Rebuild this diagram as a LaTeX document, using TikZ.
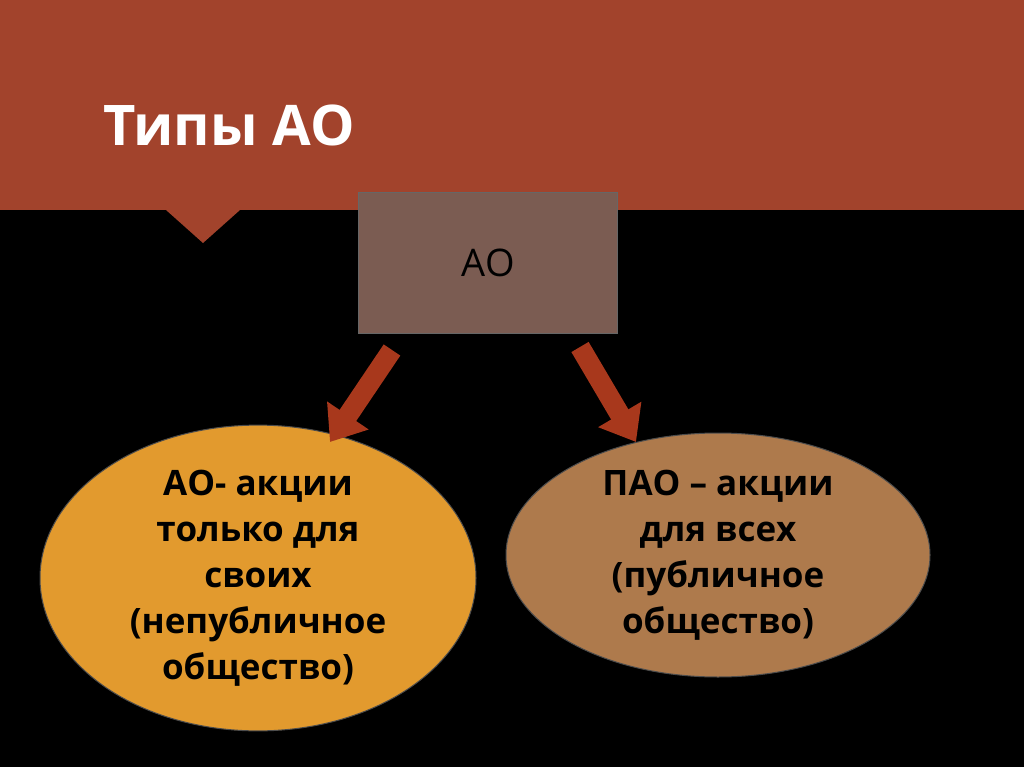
\documentclass[tikz,border=0pt]{standalone}
\usepackage{fontspec}
\setmainfont{Open Sans}
\usetikzlibrary{arrows.meta,shapes.geometric}
\definecolor{band}{HTML}{A2432C}
\definecolor{boxc}{HTML}{7B5C52}
\definecolor{arr}{HTML}{A8381C}
\definecolor{ell1}{HTML}{E29A2E}
\definecolor{ell2}{HTML}{AE7A4C}
\tikzset{
  oval/.style={ellipse,draw=black!70,line width=1pt,font=\bfseries\fontsize{35}{46}\selectfont,align=center,text=black,inner sep=0pt},
  fatarrow/.style={draw=arr,line width=20pt,-{Triangle[width=48pt,length=32pt]}}
}
\begin{document}
\begin{tikzpicture}[x=1pt,y=-1pt]
\useasboundingbox (0,0) rectangle (1024,767);
\fill[black] (0,0) rectangle (1024,767);
\fill[band] (0,0) -- (1024,0) -- (1024,210) -- (240,210) -- (203,243) -- (166,210) -- (0,210) -- cycle;
\node[anchor=west,text=white,font=\bfseries\fontsize{56}{60}\selectfont] (title) at (100,125) {Типы АО};
\node[draw=black!60,line width=1.5pt,fill=boxc,minimum width=259pt,minimum height=141pt,font=\fontsize{38}{42}\selectfont] (ao) at (488,263) {АО};
\node[oval,fill=ell1,minimum width=436pt,minimum height=258pt] (l) at (258,578) {АО- акции\\только для\\своих\\(непубличное\\общество)};
\node[oval,fill=ell2,minimum width=424pt,minimum height=244pt] (r) at (718,555) {ПАО – акции\\для всех\\(публичное\\общество)};
\coordinate (a1) at (392,350);
\coordinate (a2) at (330,442);
\coordinate (b1) at (580,347);
\coordinate (b2) at (636,442);
\draw[fatarrow] (a1) -- (a2);
\draw[fatarrow] (b1) -- (b2);
\end{tikzpicture}
\end{document}
